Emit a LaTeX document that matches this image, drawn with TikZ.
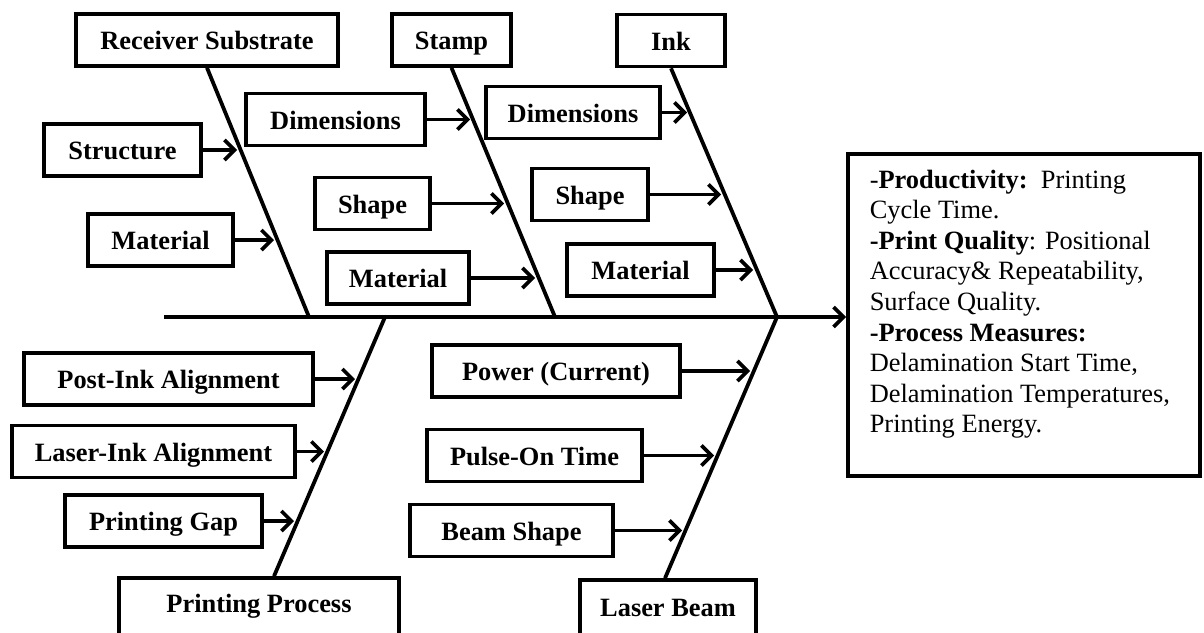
\documentclass[tikz,border=0pt]{standalone}
\usepackage{fontspec}
\setmainfont{Liberation Serif}
\usetikzlibrary{arrows.meta}

\begin{document}
\begin{tikzpicture}[x=1pt, y=-1pt,
  every path/.style={line width=3.6pt},
  box/.style={draw, line width=3.6pt, inner sep=0pt, minimum height=52pt,
              text height=21pt, text depth=2pt,
              font=\fontsize{26.4}{30}\selectfont\bfseries},
  bone/.style={line width=3.8pt},
  arr/.style={line width=3.6pt, -{Straight Barb[length=10pt, width=20pt]}}]

\useasboundingbox (0,0) rectangle (1204,632);

% --- main categories (heads of the bones)
\node[box, minimum width=262pt] (rs)  at (207,40)   {Receiver Substrate};
\node[box, minimum width=119pt] (st)  at (451.5,40) {Stamp};
\node[box, minimum width=108pt] (ink) at (671,40.5) {Ink};
\node[box, minimum width=280pt, minimum height=64pt, text depth=17pt] (pp) at (259,610) {Printing Process};
\node[box, minimum width=176pt, minimum height=64pt, text depth=12pt] (lb) at (668,612) {Laser Beam};

% --- junctions on the spine
\coordinate (tail) at (164,317);
\coordinate (r0) at (309,317);
\coordinate (s0) at (555,317);
\coordinate (p0) at (385,317);
\coordinate (j0) at (777,317);

% --- effect box
\node[draw, line width=3.6pt, minimum width=352pt, minimum height=322pt, inner sep=0pt]
  (res) at (1024,315) {};
\node[anchor=north west, inner sep=0pt, align=left,
      font=\fontsize{26.4}{30.6}\selectfont] (restext) at (868,168)
  {-\textbf{Productivity:}\ \ Printing\\
   Cycle Time.\\
   \textbf{-Print Quality}: Positional\\
   Accuracy\& Repeatability,\\
   Surface Quality.\\
   \textbf{-Process Measures:}\\
   Delamination Start Time,\\
   Delamination Temperatures,\\
   Printing Energy.};

% --- spine
\draw[arr, line width=3.8pt] (tail) -- (tail -| res.west);

% --- bones
\draw[bone] (rs.south) -- (r0);
\draw[bone] (st.south) -- (s0);
\draw[bone] (ink.south) -- (j0);
\draw[bone] ([xshift=15pt]pp.north) -- (p0);
\draw[bone] ([xshift=-3pt]lb.north) -- (j0);

% --- causes: receiver substrate
\node[box, minimum width=157pt] (rstr) at (122.5,150) {Structure};
\node[box, minimum width=145pt] (rmat) at (160.5,240) {Material};
\coordinate (trstr) at (237,150);
\coordinate (trmat) at (274,240);
\draw[arr] (rstr.east) -- (trstr);
\draw[arr] (rmat.east) -- (trmat);

% --- causes: stamp
\node[box, minimum width=179pt] (sdim) at (335.5,119.5) {Dimensions};
\node[box, minimum width=115pt] (sshp) at (372.5,203.5) {Shape};
\node[box, minimum width=142pt] (smat) at (398,278)     {Material};
\coordinate (tsdim) at (470,119.5);
\coordinate (tsshp) at (504,203.5);
\coordinate (tsmat) at (535,278);
\draw[arr] (sdim.east) -- (tsdim);
\draw[arr] (sshp.east) -- (tsshp);
\draw[arr] (smat.east) -- (tsmat);

% --- causes: ink
\node[box, minimum width=174pt] (idim) at (573,112.5) {Dimensions};
\node[box, minimum width=116pt] (ishp) at (590,194.5) {Shape};
\node[box, minimum width=147pt] (imat) at (640.5,270) {Material};
\coordinate (tidim) at (687,112.5);
\coordinate (tishp) at (721,194.5);
\coordinate (timat) at (753,270);
\draw[arr] (idim.east) -- (tidim);
\draw[arr] (ishp.east) -- (tishp);
\draw[arr] (imat.east) -- (timat);

% --- causes: printing process
\node[box, minimum width=289pt] (ppost) at (168.5,379)  {Post-Ink Alignment};
\node[box, minimum width=283pt] (plas)  at (153.5,451.5) {Laser-Ink Alignment};
\node[box, minimum width=197pt] (pgap)  at (163.5,521)  {Printing Gap};
\coordinate (tppost) at (355,379);
\coordinate (tplas)  at (324,451.5);
\coordinate (tpgap)  at (294,521);
\draw[arr] (ppost.east) -- (tppost);
\draw[arr] (plas.east)  -- (tplas);
\draw[arr] (pgap.east)  -- (tpgap);

% --- causes: laser beam
\node[box, minimum width=248pt] (lpow) at (556,371)   {Power (Current)};
\node[box, minimum width=215pt] (lpul) at (534.5,455.5) {Pulse-On Time};
\node[box, minimum width=203pt] (lbsh) at (511.5,530.5) {Beam Shape};
\coordinate (tlpow) at (750,371);
\coordinate (tlpul) at (714,455.5);
\coordinate (tlbsh) at (682,530.5);
\draw[arr] (lpow.east) -- (tlpow);
\draw[arr] (lpul.east) -- (tlpul);
\draw[arr] (lbsh.east) -- (tlbsh);

\end{tikzpicture}
\end{document}
